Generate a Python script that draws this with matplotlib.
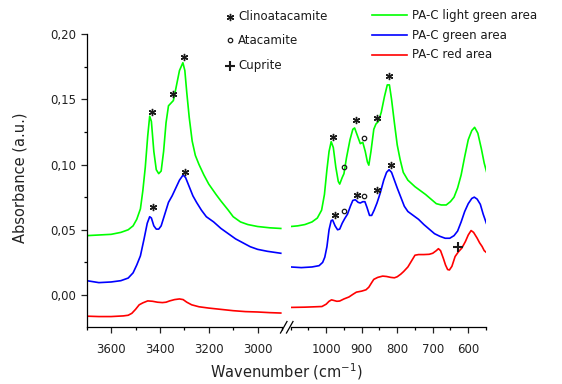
import matplotlib
matplotlib.use('Agg')
import matplotlib.pyplot as plt
from matplotlib.lines import Line2D
from matplotlib.ticker import MultipleLocator, FuncFormatter

plt.rcParams['font.family'] = ['DejaVu Sans']
plt.rcParams['mathtext.default'] = 'regular'

# ---------------- data ----------------
# High-wavenumber region (cm-1)
wn_green_hi = [3700, 3650, 3600, 3560, 3530, 3510, 3495, 3480, 3470, 3460, 3450, 3442, 3435,
               3425, 3415, 3405, 3395, 3385, 3375, 3365, 3355, 3345, 3335, 3320, 3306, 3298,
               3290, 3280, 3268, 3255, 3240, 3220, 3200, 3170, 3150, 3120, 3100, 3070, 3040,
               3000, 2950, 2905]
ab_green_hi = [0.0455, 0.046, 0.0465, 0.048, 0.050, 0.053, 0.058, 0.066, 0.080, 0.098, 0.122,
               0.137, 0.133, 0.110, 0.096, 0.093, 0.095, 0.110, 0.132, 0.145, 0.147, 0.149,
               0.158, 0.172, 0.178, 0.172, 0.155, 0.136, 0.118, 0.107, 0.100, 0.092, 0.085,
               0.077, 0.072, 0.065, 0.060, 0.056, 0.054, 0.0525, 0.0515, 0.051]

wn_blue_hi = [3700, 3650, 3600, 3560, 3530, 3510, 3495, 3480, 3465, 3452, 3442, 3435, 3425,
              3415, 3405, 3395, 3380, 3365, 3350, 3335, 3320, 3305, 3295, 3280, 3265, 3250,
              3230, 3210, 3180, 3150, 3120, 3090, 3060, 3030, 3000, 2960, 2905]
ab_blue_hi = [0.011, 0.0095, 0.010, 0.011, 0.013, 0.017, 0.023, 0.030, 0.043, 0.055, 0.060,
              0.059, 0.053, 0.0505, 0.0505, 0.053, 0.062, 0.071, 0.076, 0.082, 0.088, 0.092,
              0.090, 0.083, 0.076, 0.071, 0.065, 0.060, 0.056, 0.051, 0.047, 0.043, 0.040,
              0.037, 0.035, 0.0335, 0.032]

wn_red_hi = [3700, 3650, 3600, 3550, 3530, 3515, 3500, 3485, 3470, 3450, 3430, 3410, 3390,
             3375, 3360, 3340, 3320, 3305, 3290, 3270, 3240, 3200, 3150, 3100, 3050, 3000,
             2950, 2905]
ab_red_hi = [-0.0162, -0.0165, -0.0165, -0.016, -0.0155, -0.014, -0.011, -0.0075, -0.006,
             -0.0045, -0.0048, -0.0055, -0.0058, -0.0055, -0.0045, -0.0035, -0.003, -0.0035,
             -0.0055, -0.0075, -0.009, -0.010, -0.011, -0.012, -0.0127, -0.013, -0.0135,
             -0.0138]

# Low-wavenumber region (cm-1)
wn_green_lo = [1100, 1080, 1060, 1040, 1025, 1013, 1005, 998, 992, 986, 980, 973, 966, 962,
               955, 950, 943, 933, 925, 920, 912, 904, 897, 890, 884, 880, 874, 866, 860,
               853, 845, 836, 828, 822, 816, 808, 800, 792, 783, 770, 750, 735, 720, 705,
               690, 676, 662, 650, 640, 630, 620, 610, 600, 590, 582, 573, 563, 555, 547]
ab_green_lo = [0.0525, 0.053, 0.054, 0.056, 0.059, 0.065, 0.077, 0.096, 0.110, 0.1175, 0.113,
               0.098, 0.087, 0.085, 0.090, 0.093, 0.105, 0.119, 0.127, 0.128, 0.122, 0.116,
               0.117, 0.110, 0.102, 0.0995, 0.110, 0.127, 0.131, 0.133, 0.140, 0.152, 0.161,
               0.161, 0.150, 0.132, 0.115, 0.104, 0.094, 0.088, 0.083, 0.080, 0.077, 0.0735,
               0.070, 0.069, 0.069, 0.0716, 0.075, 0.082, 0.092, 0.106, 0.119, 0.126, 0.1285,
               0.124, 0.112, 0.101, 0.093]

wn_blue_lo = [1100, 1070, 1040, 1020, 1010, 1004, 998, 992, 986, 982, 975, 968, 962, 955,
              948, 940, 932, 925, 918, 910, 904, 897, 891, 885, 878, 872, 865, 857, 848,
              838, 830, 823, 816, 808, 800, 790, 780, 770, 755, 740, 725, 710, 695, 680,
              665, 652, 640, 630, 620, 610, 600, 590, 583, 575, 566, 558, 549]
ab_blue_lo = [0.0215, 0.021, 0.0215, 0.0225, 0.025, 0.029, 0.037, 0.050, 0.057, 0.0575,
              0.053, 0.050, 0.0505, 0.055, 0.0585, 0.062, 0.068, 0.0725, 0.073, 0.071,
              0.0705, 0.0715, 0.0715, 0.067, 0.061, 0.061, 0.065, 0.0705, 0.078, 0.088,
              0.094, 0.096, 0.094, 0.088, 0.082, 0.075, 0.068, 0.064, 0.061, 0.058, 0.054,
              0.0505, 0.047, 0.045, 0.0435, 0.0435, 0.0455, 0.049, 0.056, 0.064, 0.070,
              0.074, 0.075, 0.0735, 0.0695, 0.062, 0.055]

wn_red_lo = [1100, 1060, 1030, 1012, 1000, 992, 985, 978, 970, 962, 950, 936, 925, 915, 900,
             888, 880, 872, 866, 855, 841, 830, 818, 808, 800, 790, 782, 770, 760, 750, 740,
             725, 710, 700, 690, 684, 678, 670, 664, 658, 653, 646, 637, 628, 618, 608, 600,
             592, 585, 575, 568, 561, 555, 549]
ab_red_lo = [-0.0095, -0.0093, -0.009, -0.0088, -0.007, -0.0048, -0.0037, -0.0042, -0.0048,
             -0.0046, -0.003, -0.0015, 0.0005, 0.0022, 0.003, 0.004, 0.006, 0.0095, 0.012,
             0.0135, 0.0145, 0.0142, 0.0135, 0.0132, 0.014, 0.016, 0.018, 0.0215, 0.026,
             0.0305, 0.031, 0.031, 0.0312, 0.032, 0.034, 0.0355, 0.034, 0.028, 0.023, 0.0195,
             0.0192, 0.022, 0.0295, 0.033, 0.036, 0.041, 0.046, 0.0494, 0.048, 0.0436, 0.040,
             0.0372, 0.034, 0.0326]

# band markers
clino_wn_hi = [3433, 3345, 3300, 3429, 3297]
clino_ab_hi = [0.1405, 0.1538, 0.1826, 0.0673, 0.0946]
clino_wn_lo = [980, 916, 857, 822, 975, 912, 857, 818]
clino_ab_lo = [0.1214, 0.1343, 0.1354, 0.1678, 0.0614, 0.0767, 0.0806, 0.0997]
ataca_wn_lo = [949, 893, 949, 893]
ataca_ab_lo = [0.0984, 0.120, 0.064, 0.076]
cupr_wn_lo = [630]
cupr_ab_lo = [0.037]

series_labels = ['PA-C light green area', 'PA-C green area', 'PA-C red area']
series_colors = ['#00ff00', '#0000ff', '#ff0000']
marker_labels = ['Clinoatacamite', 'Atacamite', 'Cuprite']
yticks = [0.00, 0.05, 0.10, 0.15, 0.20]
xticks_hi = [3600, 3400, 3200, 3000]
xticks_lo = [1000, 900, 800, 700, 600]

# ---------------- figure ----------------
W, H = 562, 384
fig = plt.figure(figsize=(W / 100, H / 100), dpi=100)

def fx(px):
    return px / W

def fy(py):
    return 1 - py / H

top_px, bot_px = 34.0, 327.0
axL = fig.add_axes([fx(86.7), fy(bot_px), fx(195.3), (bot_px - top_px) / H])
axR = fig.add_axes([fx(290.7), fy(bot_px), fx(195.3), (bot_px - top_px) / H])

lw = 1.2
for ax, data in ((axL, [(wn_green_hi, ab_green_hi), (wn_blue_hi, ab_blue_hi), (wn_red_hi, ab_red_hi)]),
                 (axR, [(wn_green_lo, ab_green_lo), (wn_blue_lo, ab_blue_lo), (wn_red_lo, ab_red_lo)])):
    for (x, y), c in zip(data, series_colors):
        ax.plot(x, y, color=c, lw=lw, solid_joinstyle='round')

ast = (6, 2, 0)
mk = dict(color='#1a1a1a', linestyle='none')
ast_kw = dict(marker=ast, ms=5.2, mew=1.0)
circ_kw = dict(marker='o', ms=3.2, mfc='none', mew=0.9)
plus_kw = dict(marker='+', ms=6.5, mew=1.5)
axL.plot(clino_wn_hi, clino_ab_hi, **ast_kw, **mk)
axR.plot(clino_wn_lo, clino_ab_lo, **ast_kw, **mk)
axR.plot(ataca_wn_lo, ataca_ab_lo, **circ_kw, **mk)
axR.plot(cupr_wn_lo, cupr_ab_lo, **plus_kw, **mk)

ymin, ymax = -0.0245, 0.20
axL.set_xlim(3700, 2900)
axR.set_xlim(1100, 550)
for ax in (axL, axR):
    ax.set_ylim(ymin, ymax)
    ax.spines['top'].set_visible(False)
    ax.spines['right'].set_visible(False)
    for s in ax.spines.values():
        s.set_linewidth(0.9)
    ax.tick_params(direction='out', length=4, width=0.9, labelsize=8.5,
                   colors='#222222')
    ax.tick_params(axis='x', pad=7.5)
    ax.tick_params(axis='y', pad=3.5)
    ax.tick_params(which='minor', direction='out', length=2.5, width=0.9)
    ax.set_facecolor('none')

axL.set_xticks(xticks_hi)
axL.xaxis.set_minor_locator(MultipleLocator(100))
axR.set_xticks(xticks_lo)
axR.xaxis.set_minor_locator(MultipleLocator(50))

axL.set_yticks(yticks)
axL.yaxis.set_minor_locator(MultipleLocator(0.025))
axL.yaxis.set_major_formatter(FuncFormatter(lambda v, p: f"{v:.2f}".replace('.', ',').replace('-0,00', '0,00')))
axR.spines['left'].set_visible(False)
axR.tick_params(axis='y', which='both', left=False, labelleft=False)

# axis break marks
for x0 in (280.5, 286.5):
    fig.add_artist(Line2D([fx(x0), fx(x0 + 6.5)], [fy(333), fy(321.5)], color='black', lw=0.9))

# axis labels
fig.text(fx(20), fy(178), 'Absorbance (a.u.)', rotation=90, ha='center', va='center',
         fontsize=10.5, color='#222222')
fig.text(fx(286), fy(372), 'Wavenumber (cm$^{-1}$)', ha='center', va='center',
         fontsize=10.5, color='#222222')

# band marker key
key_y = [16.7, 40, 66]
key_mk = [ast_kw, circ_kw, plus_kw]
for yy, lab, m in zip(key_y, marker_labels, key_mk):
    fig.add_artist(Line2D([fx(229.5)], [fy(yy)], color='#1a1a1a', linestyle='none', **m))
    fig.text(fx(238), fy(yy), lab, ha='left', va='center', fontsize=8.5, color='#1a1a1a')

# series legend
leg_y = [15.3, 35, 55]
for yy, lab, c in zip(leg_y, series_labels, series_colors):
    fig.add_artist(Line2D([fx(371.7), fx(406.7)], [fy(yy), fy(yy)], color=c, lw=1.2))
    fig.text(fx(411.7), fy(yy), lab, ha='left', va='center', fontsize=8.5, color='#1a1a1a')

fig.savefig('out.png', dpi=100)
